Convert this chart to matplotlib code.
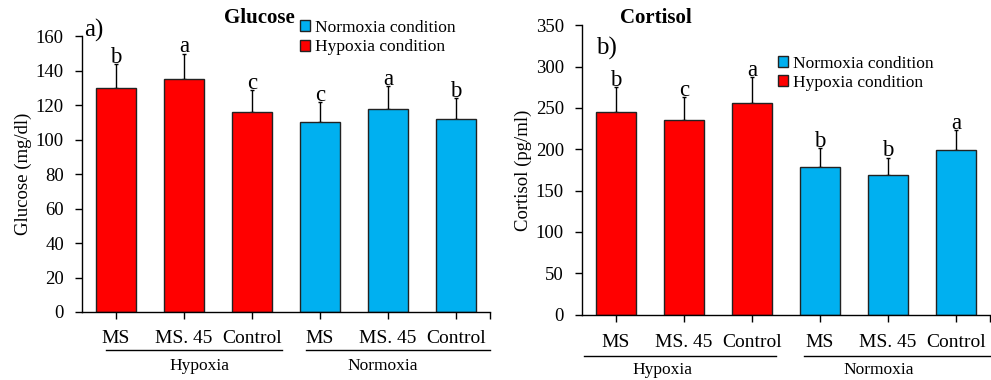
import numpy as np
import matplotlib.pyplot as plt
from matplotlib.patches import Patch
from matplotlib.transforms import blended_transform_factory

plt.rcParams['font.family'] = ['Liberation Serif', 'DejaVu Serif']

# datos
groups = ['MS', 'MS. 45', 'Control', 'MS', 'MS. 45', 'Control']
conds = ['Hypoxia', 'Normoxia']

glucose = [130, 135, 116, 110, 118, 112]
glucose_err = [14, 15, 13, 12, 13, 12]
glucose_let = ['b', 'a', 'c', 'c', 'a', 'b']

cortisol = [245, 235, 256, 179, 169, 199]
cortisol_err = [30, 28, 31, 22, 21, 24]
cortisol_let = ['b', 'c', 'a', 'b', 'b', 'a']

red = '#FF0000'
blue = '#00B0F0'
colors = [red] * 3 + [blue] * 3

fig = plt.figure(figsize=(9.91, 3.8), dpi=100)
ax1 = fig.add_axes([0.0827, 0.179, 0.4117, 0.7255])
ax2 = fig.add_axes([0.5873, 0.172, 0.4117, 0.7616])


def draw(ax, vals, errs, lets, ymax, step, ylabel, title, title_xy, tag, tag_xy,
         leg_xy, lines, labs, line_y, lab_y, tick_pad):
    x = np.arange(len(vals))
    ax.bar(x, vals, width=0.58, color=colors, edgecolor='#222222', linewidth=1, zorder=2)
    ax.errorbar(x, vals, yerr=[np.zeros(len(errs)), errs], fmt='none', ecolor='black',
                elinewidth=1, capsize=1.5, zorder=1)
    for xi, v, e, l in zip(x, vals, errs, lets):
        ax.text(xi, v + e + ymax * 0.004, l, ha='center', va='baseline', fontsize=16.5)
    ax.set_xlim(-0.5, 5.5)
    ax.set_ylim(0, ymax)
    ax.set_yticks(np.arange(0, ymax + 1, step))
    ax.set_xticks(x)
    ax.set_xticklabels(groups)
    ax.set_xticks([5.5], minor=True)
    ax.tick_params(axis='y', labelsize=13.5, direction='out', length=5, width=1, pad=8)
    ax.tick_params(axis='x', which='both', labelsize=14, direction='out', length=5, width=1, pad=tick_pad)
    for s in ['top', 'right']:
        ax.spines[s].set_visible(False)
    ax.spines['left'].set_linewidth(1)
    ax.spines['bottom'].set_linewidth(1)
    ax.set_ylabel(ylabel, fontsize=13.5)
    ax.yaxis.set_label_coords(-0.122, 0.5)
    ax.text(title_xy[0], title_xy[1], title, transform=ax.transAxes, ha='center', va='center',
            fontsize=15, fontweight='bold')
    ax.text(tag_xy[0], tag_xy[1], tag, transform=ax.transAxes, ha='left', va='center', fontsize=18)
    handles = [Patch(facecolor=blue, edgecolor='#222222'), Patch(facecolor=red, edgecolor='#222222')]
    ax.legend(handles, ['Normoxia condition', 'Hypoxia condition'], loc='upper left',
              bbox_to_anchor=leg_xy, frameon=False, fontsize=12.5, handlelength=0.6,
              handleheight=0.6, handletextpad=0.25, labelspacing=0.2, borderpad=0, borderaxespad=0)
    tr = blended_transform_factory(ax.transData, ax.transAxes)
    for (a, b), (lx, name) in zip(lines, zip(labs, conds)):
        ax.plot([a, b], [line_y, line_y], color='black', lw=1, transform=tr, clip_on=False)
        ax.text(lx, lab_y, name, transform=tr, ha='center', va='center', fontsize=12.5)


draw(ax1, glucose, glucose_err, glucose_let, 160, 20, 'Glucose (mg/dl)', 'Glucose', (0.434, 1.066),
     'a)', (0.005, 1.02), (0.534, 1.06), [(-0.15, 2.44), (2.8, 5.5)], [1.23, 3.92], -0.138, -0.195, 8)
draw(ax2, cortisol, cortisol_err, cortisol_let, 350, 50, 'Cortisol (pg/ml)', 'Cortisol', (0.181, 1.025),
     'b)', (0.035, 0.92), (0.48, 0.895), [(-0.475, 2.35), (2.76, 5.5)], [0.68, 3.86], -0.143, -0.19, 9)

plt.savefig('out.png', dpi=100)
